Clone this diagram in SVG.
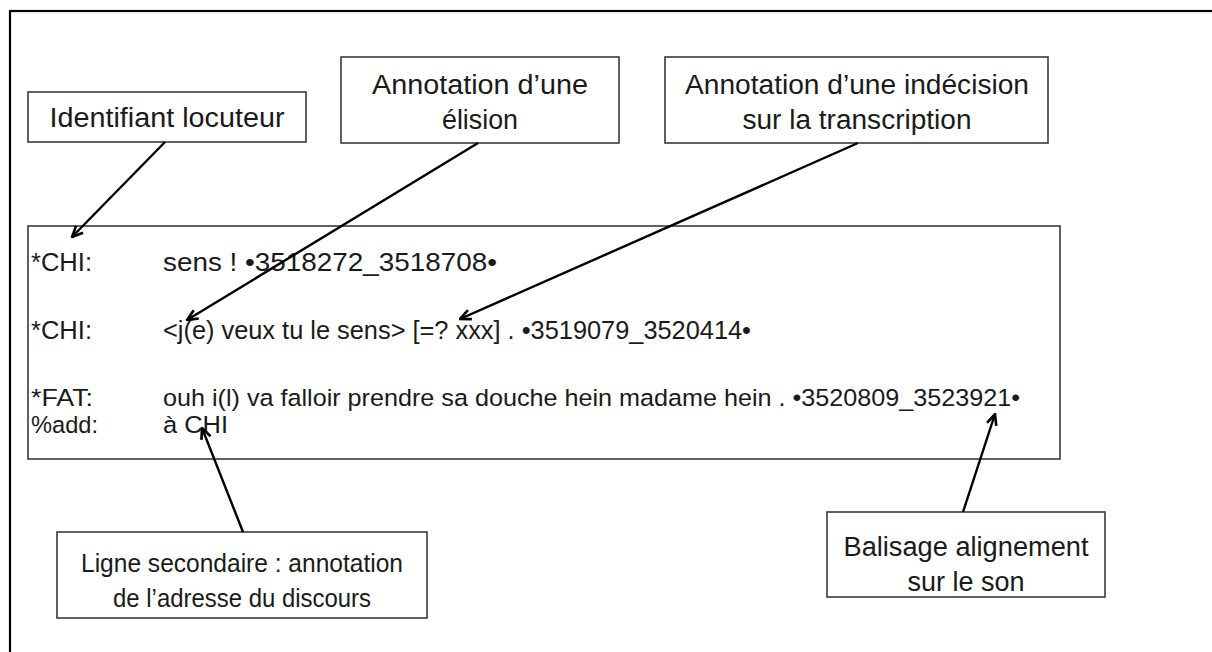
<svg xmlns="http://www.w3.org/2000/svg" width="1212" height="652" viewBox="0 0 1212 652">
<defs>
<style>
.t{font-family:"Liberation Sans",Arial,sans-serif;fill:#1a1a1a}
.c{font-size:27px;text-anchor:middle}
.s{font-size:26px}
.m{font-size:26px}
.m2{font-size:24.5px}
.box{fill:#fff;stroke:#3a3a3a;stroke-width:1.6}
.ln{stroke:#000;stroke-width:2.4;fill:none}
</style>
<marker id="ah" viewBox="0 0 12 12" refX="11" refY="6" markerWidth="13" markerHeight="13" markerUnits="userSpaceOnUse" orient="auto">
<path d="M1,1.5 L11,6 L1,10.5" fill="none" stroke="#000" stroke-width="2.4"/>
</marker>
</defs>
<rect width="1212" height="652" fill="#fff"/>
<rect x="10" y="11" width="1230" height="670" fill="none" stroke="#000" stroke-width="2.2"/>

<g id="transcript">
<rect class="box" x="28" y="226" width="1032" height="233"/>
<text class="t m" x="31" y="271" textLength="61" lengthAdjust="spacingAndGlyphs">*CHI:</text>
<text class="t m" x="163" y="271" textLength="334" lengthAdjust="spacingAndGlyphs">sens ! •3518272_3518708•</text>
<text class="t m" x="31" y="339" textLength="61" lengthAdjust="spacingAndGlyphs">*CHI:</text>
<text class="t m" x="163" y="339" textLength="588" lengthAdjust="spacingAndGlyphs">&lt;j(e) veux tu le sens&gt; [=? xxx] . •3519079_3520414•</text>
<text class="t m2" x="31" y="406" textLength="62" lengthAdjust="spacingAndGlyphs">*FAT:</text>
<text class="t m2" x="163" y="406" textLength="857" lengthAdjust="spacingAndGlyphs">ouh i(l) va falloir prendre sa douche hein madame hein . •3520809_3523921•</text>
<text class="t m2" x="31" y="433" textLength="67" lengthAdjust="spacingAndGlyphs">%add:</text>
<text class="t m2" x="163" y="433" textLength="65" lengthAdjust="spacingAndGlyphs">à CHI</text>
</g>

<g id="n-identifiant">
<rect class="box" x="28" y="92" width="278" height="50"/>
<text class="t c" x="167" y="127" textLength="235" lengthAdjust="spacingAndGlyphs">Identifiant locuteur</text>
</g>
<g id="n-elision">
<rect class="box" x="341" y="57" width="278" height="86"/>
<text class="t c" x="480" y="94" textLength="216" lengthAdjust="spacingAndGlyphs">Annotation d’une</text>
<text class="t c" x="480" y="129" textLength="76" lengthAdjust="spacingAndGlyphs">élision</text>
</g>
<g id="n-indecision">
<rect class="box" x="665" y="57" width="383" height="86"/>
<text class="t c" x="857" y="94" textLength="344" lengthAdjust="spacingAndGlyphs">Annotation d’une indécision</text>
<text class="t c" x="857" y="129" textLength="229" lengthAdjust="spacingAndGlyphs">sur la transcription</text>
</g>
<g id="n-ligne">
<rect class="box" x="57" y="532" width="370" height="86"/>
<text class="t c s" x="242" y="572" textLength="322" lengthAdjust="spacingAndGlyphs">Ligne secondaire : annotation</text>
<text class="t c s" x="242" y="607" textLength="258" lengthAdjust="spacingAndGlyphs">de l’adresse du discours</text>
</g>
<g id="n-balisage">
<rect class="box" x="827" y="512" width="278" height="85"/>
<text class="t c" x="966" y="556" textLength="245" lengthAdjust="spacingAndGlyphs">Balisage alignement</text>
<text class="t c" x="966" y="591" textLength="117" lengthAdjust="spacingAndGlyphs">sur le son</text>
</g>

<g id="connectors">
<line class="ln" x1="165" y1="142" x2="72" y2="237" marker-end="url(#ah)"/>
<line class="ln" x1="478" y1="143" x2="187" y2="320" marker-end="url(#ah)"/>
<line class="ln" x1="858" y1="143" x2="460" y2="319" marker-end="url(#ah)"/>
<line class="ln" x1="243" y1="532" x2="202" y2="428" marker-end="url(#ah)"/>
<line class="ln" x1="963" y1="512" x2="995" y2="414" marker-end="url(#ah)"/>
</g>
</svg>
